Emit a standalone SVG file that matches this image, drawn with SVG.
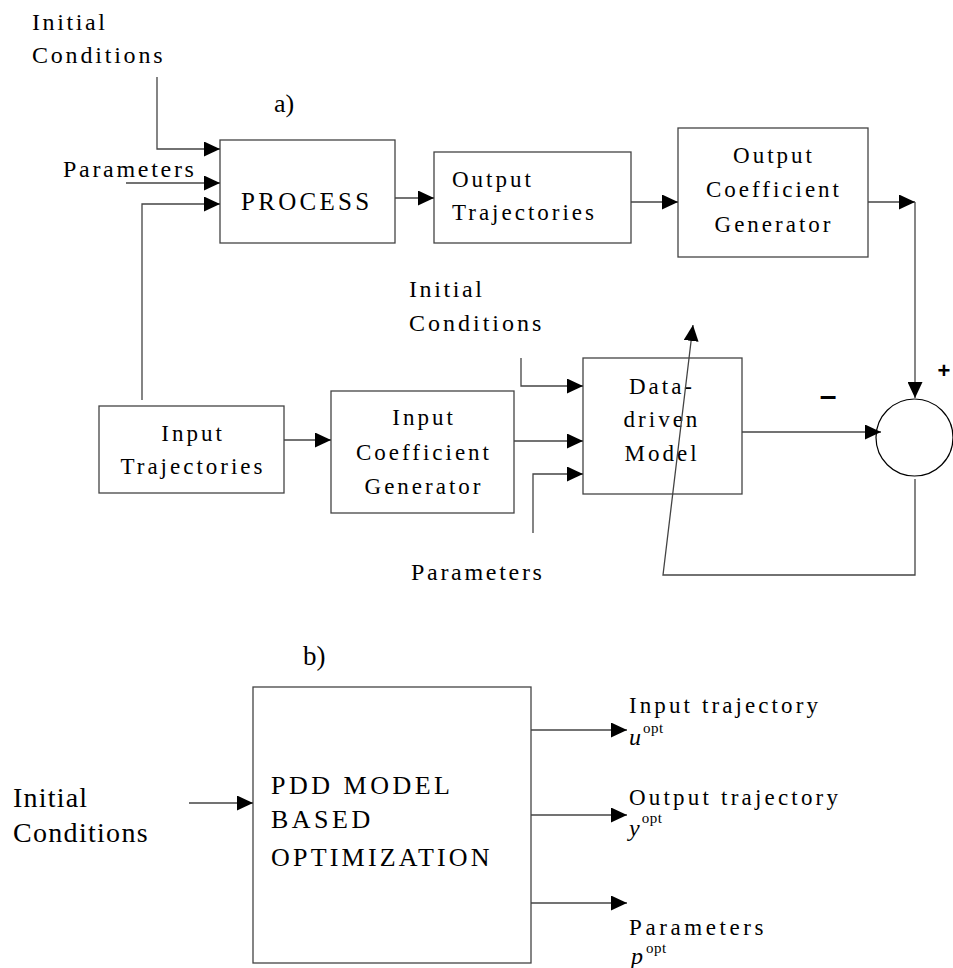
<svg xmlns="http://www.w3.org/2000/svg" width="953" height="968" viewBox="0 0 953 968">
<style>
.t{font-family:"Liberation Serif","Times New Roman",serif;font-size:23px;letter-spacing:3px;fill:#000}
.box{fill:none;stroke:#444;stroke-width:1.3}
.ln{fill:none;stroke:#444;stroke-width:1.3}
.it{font-style:italic;letter-spacing:0}
.sup{font-size:15px;letter-spacing:0.5px}
</style>
<defs>
<marker id="ah" markerUnits="userSpaceOnUse" markerWidth="16" markerHeight="15" refX="16" refY="7.5" orient="auto" viewBox="0 0 16 15">
<path d="M0,0 L16,7.5 L0,15 z" fill="#000"/>
</marker>
</defs>
<rect width="953" height="968" fill="#fff"/>

<g id="labels">
<text class="t" x="32" y="30" style="font-size:24px;letter-spacing:2.6px">Initial</text>
<text class="t" x="32" y="63" style="font-size:24px;letter-spacing:2.8px">Conditions</text>
<text class="t" x="274" y="112" style="font-size:26px;letter-spacing:0">a)</text>
<text class="t" x="63" y="177" style="font-size:24px;letter-spacing:2.7px">Parameters</text>
<text class="t" x="409" y="297" style="font-size:24px;letter-spacing:2.6px">Initial</text>
<text class="t" x="409" y="331" style="font-size:24px;letter-spacing:3px">Conditions</text>
<text class="t" x="411" y="580" style="font-size:24px;letter-spacing:2.7px">Parameters</text>
<text x="828" y="406" text-anchor="middle" style="font-family:'Liberation Sans',Arial,sans-serif;font-size:30px;font-weight:bold">–</text>
<text x="944" y="378" text-anchor="middle" style="font-family:'Liberation Sans',Arial,sans-serif;font-size:22px;font-weight:bold">+</text>
<text class="t" x="303" y="665" style="font-size:27px;letter-spacing:0">b)</text>
<text class="t" x="13" y="807" style="font-size:28px;letter-spacing:1.2px">Initial</text>
<text class="t" x="13" y="842" style="font-size:28px;letter-spacing:1.3px">Conditions</text>
<text class="t" x="629" y="713" style="letter-spacing:3.1px">Input trajectory</text>
<text class="t" x="629" y="745"><tspan class="it" style="font-size:24px">u</tspan><tspan class="sup" dx="2" dy="-12">opt</tspan></text>
<text class="t" x="629" y="805" style="letter-spacing:3.2px">Output trajectory</text>
<text class="t" x="629" y="836"><tspan class="it" style="font-size:24px">y</tspan><tspan class="sup" dx="2" dy="-13">opt</tspan></text>
<text class="t" x="629" y="935" style="letter-spacing:3.6px">Parameters</text>
<text class="t" x="631" y="964"><tspan class="it" style="font-size:24px">p</tspan><tspan class="sup" dx="3" dy="-11">opt</tspan></text>
</g>

<g id="process">
<rect class="box" x="220" y="140" width="175" height="103"/>
<text class="t" x="241" y="210" style="font-size:25px;letter-spacing:3.3px">PROCESS</text>
</g>

<g id="output-trajectories">
<rect class="box" x="434" y="152" width="197" height="91"/>
<text class="t" x="452" y="187">Output</text>
<text class="t" x="452" y="220">Trajectories</text>
</g>

<g id="output-coefficient-generator">
<rect class="box" x="678" y="128" width="190" height="129"/>
<text class="t" x="774" y="163" text-anchor="middle">Output</text>
<text class="t" x="774" y="197" text-anchor="middle">Coefficient</text>
<text class="t" x="774" y="232" text-anchor="middle">Generator</text>
</g>

<g id="input-trajectories">
<rect class="box" x="99" y="406" width="185" height="87"/>
<text class="t" x="193" y="441" text-anchor="middle">Input</text>
<text class="t" x="193" y="474" text-anchor="middle">Trajectories</text>
</g>

<g id="input-coefficient-generator">
<rect class="box" x="331" y="391" width="183" height="122"/>
<text class="t" x="424" y="425" text-anchor="middle">Input</text>
<text class="t" x="424" y="460" text-anchor="middle">Coefficient</text>
<text class="t" x="424" y="494" text-anchor="middle">Generator</text>
</g>

<g id="data-driven-model">
<rect class="box" x="583" y="358" width="159" height="136"/>
<text class="t" x="662" y="394" text-anchor="middle">Data-</text>
<text class="t" x="662" y="427" text-anchor="middle">driven</text>
<text class="t" x="662" y="461" text-anchor="middle">Model</text>
</g>

<g id="summing-junction">
<circle cx="914.5" cy="437.5" r="38.5" fill="none" stroke="#000" stroke-width="1.2"/>
</g>

<g id="pdd-optimization">
<rect class="box" x="253" y="687" width="278" height="276"/>
<text class="t" x="271" y="794" style="font-size:26px;letter-spacing:3.5px">PDD MODEL</text>
<text class="t" x="271" y="828" style="font-size:26px;letter-spacing:3.5px">BASED</text>
<text class="t" x="271" y="866" style="font-size:26px;letter-spacing:3.2px">OPTIMIZATION</text>
</g>

<g id="connectors">
<polyline class="ln" points="157,77 157,149 220,149" marker-end="url(#ah)"/>
<line class="ln" x1="126" y1="183" x2="220" y2="183" marker-end="url(#ah)"/>
<polyline class="ln" points="142,400 142,204 220,204" marker-end="url(#ah)"/>
<line class="ln" x1="395" y1="198" x2="434" y2="198" marker-end="url(#ah)"/>
<line class="ln" x1="631" y1="202" x2="678" y2="202" marker-end="url(#ah)"/>
<line class="ln" x1="868" y1="202" x2="915" y2="202" marker-end="url(#ah)"/>
<line class="ln" x1="915" y1="202" x2="915" y2="398" marker-end="url(#ah)"/>
<line class="ln" x1="284" y1="440" x2="331" y2="440" marker-end="url(#ah)"/>
<line class="ln" x1="514" y1="441" x2="583" y2="441" marker-end="url(#ah)"/>
<polyline class="ln" points="521,358 521,386 583,386" marker-end="url(#ah)"/>
<polyline class="ln" points="533,533 533,474 583,474" marker-end="url(#ah)"/>
<line class="ln" x1="742" y1="432" x2="881" y2="432" stroke="#000" marker-end="url(#ah)"/>
<polyline class="ln" points="915,479 915,575 663,575 693,325" marker-end="url(#ah)"/>
<line class="ln" x1="189" y1="803" x2="253" y2="803" marker-end="url(#ah)"/>
<line class="ln" x1="531" y1="730" x2="627" y2="730" marker-end="url(#ah)"/>
<line class="ln" x1="531" y1="815" x2="627" y2="815" marker-end="url(#ah)"/>
<line class="ln" x1="531" y1="903" x2="627" y2="903" marker-end="url(#ah)"/>
</g>
</svg>
